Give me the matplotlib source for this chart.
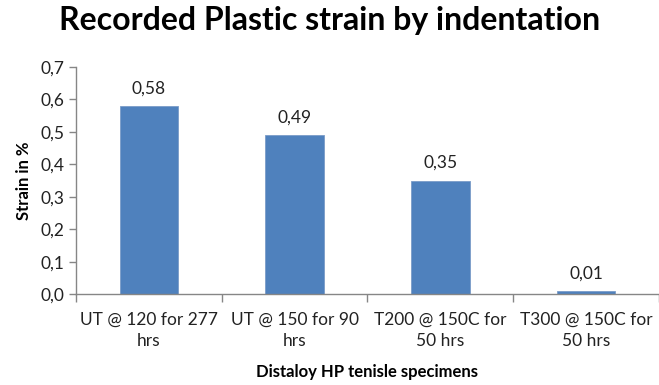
import numpy as np
import matplotlib.pyplot as plt

categories = ['UT @ 120 for 277\nhrs', 'UT @ 150 for 90\nhrs',
              'T200 @ 150C for\n50 hrs', 'T300 @ 150C for\n50 hrs']
strain = [0.58, 0.49, 0.35, 0.01]
yticks = [0.0, 0.1, 0.2, 0.3, 0.4, 0.5, 0.6, 0.7]

plt.rcParams['font.family'] = ['Lato', 'DejaVu Sans']

fig = plt.figure(figsize=(6.59, 3.85), dpi=100)
ax = fig.add_axes([0.1153, 0.236, 0.8847, 0.590])

x = np.arange(len(categories))
ax.bar(x, strain, width=0.4, color='#4F81BD', edgecolor='#7A9CC8', linewidth=0.6)

for xi, v in zip(x, strain):
    ax.annotate(('%.2f' % v).replace('.', ','), (xi, v), xytext=(0, 7),
                textcoords='offset points', ha='center', va='bottom',
                fontsize=12.5, color='#222222')

ax.set_xlim(-0.5, 3.5)
ax.set_ylim(0, 0.7)
ax.set_yticks(yticks)
ax.set_yticklabels([('%.1f' % t).replace('.', ',') for t in yticks], fontsize=12.5)
ax.set_xticks(x)
ax.set_xticklabels(categories, fontsize=12.5)
for lbl in ax.get_xticklabels():
    lbl.set_multialignment('center')
    lbl.set_linespacing(1.35)
ax.set_xticks(np.arange(-0.5, 4.0, 1.0), minor=True)
ax.tick_params(axis='x', which='major', length=0, pad=13, colors='#222222')
ax.tick_params(axis='x', which='minor', length=6, direction='out', color='#868686', width=1)
ax.tick_params(axis='y', length=5, direction='out', color='#868686', width=1, labelcolor='#222222')

for side in ['top', 'right']:
    ax.spines[side].set_visible(False)
for side in ['left', 'bottom']:
    ax.spines[side].set_color('#868686')
    ax.spines[side].set_linewidth(1)

ax.set_ylabel('Strain in %', fontsize=12, fontweight='bold', labelpad=6)
ax.set_xlabel('Distaloy HP tenisle specimens', fontsize=12, fontweight='bold', labelpad=11)
fig.suptitle('Recorded Plastic strain by indentation', fontsize=23, fontweight='bold', y=0.985)

fig.savefig('out.png', dpi=100)
